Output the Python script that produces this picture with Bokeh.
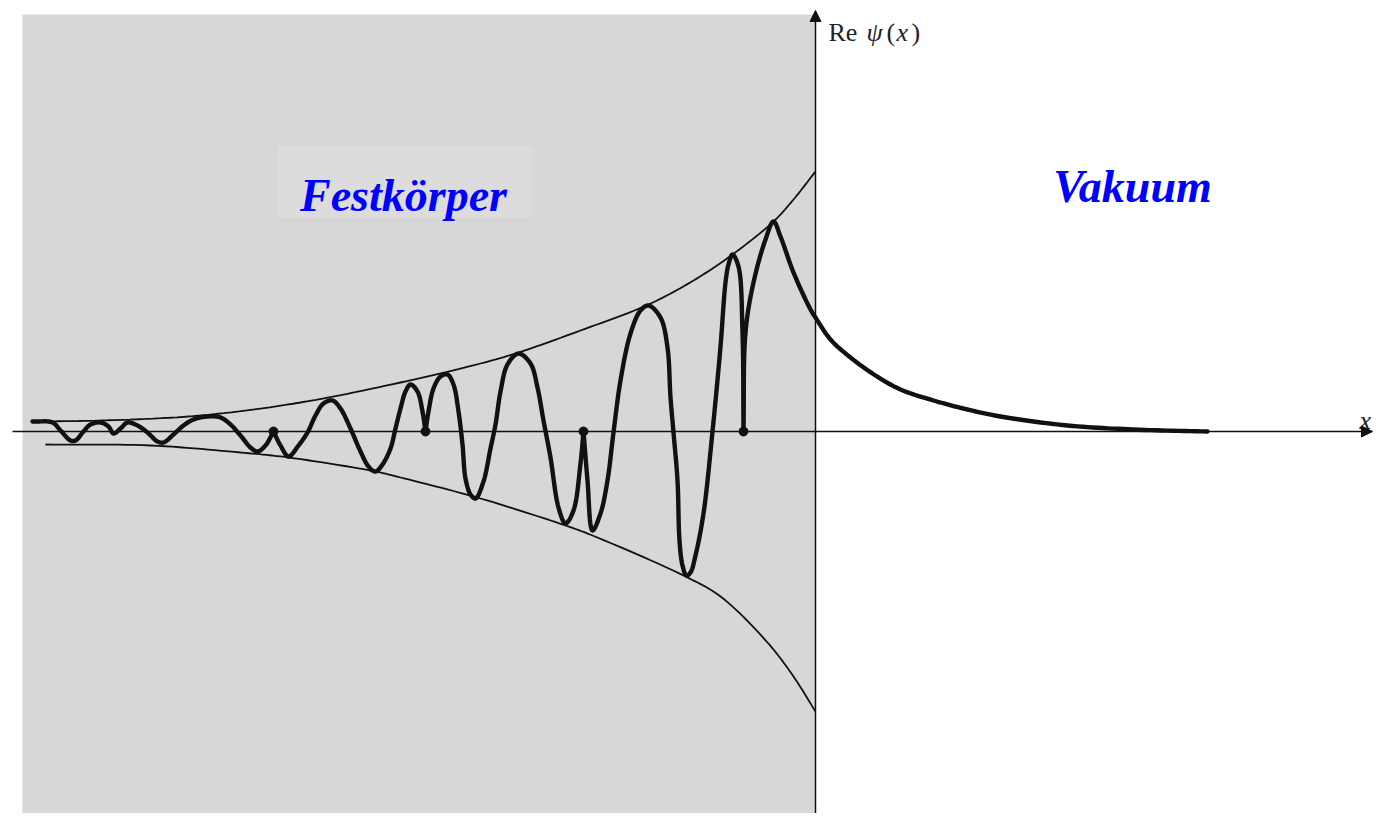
import numpy as np
from bokeh.plotting import figure
from bokeh.models import Range1d, Arrow, NormalHead
from bokeh.core.properties import value
from bokeh.embed import file_html
from bokeh.resources import INLINE

# Re psi(x) of a surface state (x: surface at 0, solid x<0)
wave_x = [-7.83, -7.63, -7.55, -7.45, -7.40, -7.32, -7.25, -7.15, -7.07, -7.02,
          -6.95, -6.88, -6.78, -6.68, -6.58, -6.52, -6.42, -6.32, -6.22, -6.08,
          -5.95, -5.85, -5.75, -5.65, -5.58, -5.50, -5.42, -5.35, -5.27, -5.17,
          -5.08, -5.00, -4.92, -4.83, -4.75, -4.65, -4.55, -4.47, -4.40, -4.33,
          -4.25, -4.20, -4.15, -4.10, -4.05, -3.98, -3.93, -3.90, -3.87, -3.82,
          -3.75, -3.68, -3.62, -3.57, -3.53, -3.50, -3.45, -3.40, -3.32, -3.25,
          -3.20, -3.15, -3.08, -2.97, -2.85, -2.78, -2.72, -2.65, -2.57, -2.50,
          -2.42, -2.35, -2.32, -2.28, -2.23, -2.15, -2.08, -2.02, -1.95, -1.85,
          -1.75, -1.67, -1.55, -1.48, -1.45, -1.42, -1.38, -1.36, -1.33, -1.29,
          -1.25, -1.20, -1.12, -1.03, -0.95, -0.90, -0.87, -0.83, -0.77, -0.73,
          -0.72, -0.70, -0.62, -0.50, -0.42, -0.35, -0.22, -0.05, 0.00, 0.15,
          0.35, 0.60, 0.85, 1.18, 1.52, 1.85, 2.52, 3.18, 3.92]
wave_y = [0.10, 0.09, 0.01, -0.09, -0.09, 0.00, 0.07, 0.09, 0.05, -0.02,
          0.03, 0.09, 0.06, -0.01, -0.10, -0.11, -0.03, 0.06, 0.12, 0.15,
          0.14, 0.07, -0.04, -0.16, -0.20, -0.14, 0.00, -0.14, -0.25, -0.14,
          -0.01, 0.16, 0.28, 0.31, 0.23, 0.03, -0.20, -0.35, -0.40, -0.33,
          -0.17, 0.03, 0.23, 0.40, 0.47, 0.40, 0.20, 0.00, 0.20, 0.43,
          0.55, 0.57, 0.47, 0.20, -0.13, -0.47, -0.63, -0.67, -0.50, -0.17,
          0.07, 0.40, 0.67, 0.78, 0.68, 0.44, 0.11, -0.26, -0.76, -0.92,
          -0.79, -0.32, 0.00, -0.49, -0.99, -0.82, -0.49, -0.01, 0.51, 0.98,
          1.21, 1.26, 1.14, 0.84, 0.34, -0.01, -0.49, -1.09, -1.34, -1.44,
          -1.41, -1.24, -0.82, 0.00, 0.85, 1.49, 1.67, 1.77, 1.65, 0.99,
          0.00, 0.99, 1.49, 1.92, 2.10, 1.95, 1.59, 1.22, 1.14, 0.92,
          0.74, 0.56, 0.42, 0.31, 0.22, 0.15, 0.06, 0.02, 0.00]

# envelope curves inside the solid
upper_x = [-7.82, -7.15, -6.15, -5.15, -4.15, -3.35, -2.97, -2.35, -1.67, -1.22, -0.83, -0.42, -0.22, 0.00]
upper_y = [0.10, 0.11, 0.16, 0.29, 0.49, 0.68, 0.79, 1.01, 1.27, 1.51, 1.77, 2.10, 2.32, 2.60]
lower_x = [-7.70, -6.65, -5.75, -5.27, -4.40, -4.15, -3.35, -2.50, -2.23, -1.30, -0.95, -0.48, -0.22, 0.00]
lower_y = [-0.13, -0.14, -0.21, -0.26, -0.40, -0.46, -0.67, -0.94, -1.04, -1.45, -1.65, -2.11, -2.45, -2.80]

# nodes where Re psi touches the axis (cusps of the curve)
node_x = [-5.42, -3.90, -2.32, -0.72]
node_y = [0.0, 0.0, 0.0, 0.0]

region_labels = ["Festkörper", "Vakuum"]
region_label_x = [-4.12, 3.17]
region_label_y = [2.36, 2.45]

INK = "#111111"


def smooth_path(xs, ys, n=14):
    """Centripetal Catmull-Rom drawing path through the read points."""
    P = np.column_stack([xs, ys]).astype(float)
    if len(P) < 3:
        return P[:, 0], P[:, 1]
    ext = np.vstack([2 * P[0] - P[1], P, 2 * P[-1] - P[-2]])
    out = [P[0]]
    for i in range(1, len(ext) - 2):
        p0, p1, p2, p3 = ext[i - 1], ext[i], ext[i + 1], ext[i + 2]
        def tj(ti, a, b):
            return ti + max(np.hypot(*(b - a)), 1e-9) ** 0.5
        t0 = 0.0
        t1 = tj(t0, p0, p1)
        t2 = tj(t1, p1, p2)
        t3 = tj(t2, p2, p3)
        t = np.linspace(t1, t2, n)[1:, None]
        a1 = (t1 - t) / (t1 - t0) * p0 + (t - t0) / (t1 - t0) * p1
        a2 = (t2 - t) / (t2 - t1) * p1 + (t - t1) / (t2 - t1) * p2
        a3 = (t3 - t) / (t3 - t2) * p2 + (t - t2) / (t3 - t2) * p3
        b1 = (t2 - t) / (t2 - t0) * a1 + (t - t0) / (t2 - t0) * a2
        b2 = (t3 - t) / (t3 - t1) * a2 + (t - t1) / (t3 - t1) * a3
        c = (t2 - t) / (t2 - t1) * b1 + (t - t1) / (t2 - t1) * b2
        out.extend(c)
    out = np.array(out)
    return out[:, 0], out[:, 1]


def wave_path(xs, ys, cusps):
    """Split the curve at the cusps so they stay sharp."""
    px, py = [], []
    start = 0
    cut = [i for i, xv in enumerate(xs) if xv in cusps] + [len(xs) - 1]
    for stop in cut:
        sx, sy = smooth_path(xs[start:stop + 1], ys[start:stop + 1])
        px.extend(sx)
        py.extend(sy)
        start = stop
    return px, py


p = figure(width=1374, height=813,
           x_range=Range1d(-8.15, 5.59), y_range=Range1d(-3.82, 4.31),
           output_backend="svg", toolbar_location=None,
           x_axis_location=None, y_axis_location=None, min_border=0)
p.grid.visible = False
p.outline_line_color = None
p.background_fill_color = "white"
p.border_fill_color = "white"

# shaded solid region
p.quad(left=-7.93, right=0.0, top=4.17, bottom=-3.95,
       fill_color="#d7d7d7", line_color=None)
p.quad(left=-5.38, right=-2.83, top=2.85, bottom=2.14,
       fill_color="#dcdcdc", line_color=None)

# axes with arrows
p.add_layout(Arrow(end=NormalHead(size=11, fill_color=INK, line_color=INK, line_width=1),
                   x_start=-8.03, y_start=0.0, x_end=5.57, y_end=0.0,
                   line_color=INK, line_width=1.5))
p.add_layout(Arrow(end=NormalHead(size=11, fill_color=INK, line_color=INK, line_width=1),
                   x_start=0.0, y_start=-3.95, x_end=0.0, y_end=4.21,
                   line_color=INK, line_width=1.5))

# envelopes
ux, uy = smooth_path(upper_x, upper_y)
lx, ly = smooth_path(lower_x, lower_y)
p.line(ux, uy, line_color=INK, line_width=1.8)
p.line(lx, ly, line_color=INK, line_width=1.8)

# wave function
wx, wy = wave_path(wave_x, wave_y, node_x)
p.line(wx, wy, line_color=INK, line_width=4.4, line_join="round", line_cap="round")
p.scatter(node_x, node_y, size=9, fill_color=INK, line_color=INK)

# region labels
p.text(x=region_label_x, y=region_label_y, text=region_labels,
       text_font=value("Liberation Serif"), text_font_style="bold italic",
       text_font_size="46px", text_color="#0000ff",
       text_align="center", text_baseline="alphabetic")

# axis labels
lab = dict(text_font=value("Liberation Serif"), text_font_size="26px",
           text_color="#222222", text_baseline="alphabetic")
p.text(x=[0.13], y=[3.99], text=["Re"], **lab)
p.text(x=[0.51], y=[3.99], text=["ψ"], text_font_style="italic", **lab)
p.text(x=[0.71], y=[3.99], text=["("], **lab)
p.text(x=[0.81], y=[3.99], text=["x"], text_font_style="italic", **lab)
p.text(x=[0.96], y=[3.99], text=[")"], **lab)
p.text(x=[5.44], y=[0.11], text=["x"], text_font_style="italic", **lab)

open("out.html", "w").write(file_html(p, INLINE))
